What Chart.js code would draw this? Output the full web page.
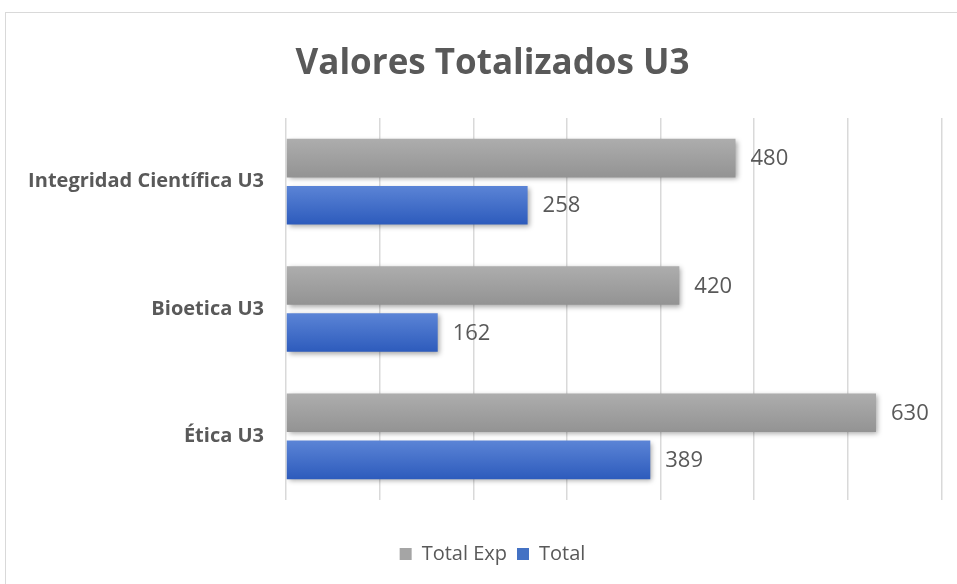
<!DOCTYPE html>
<html>
<head>
<meta charset="utf-8">
<script src="https://cdn.jsdelivr.net/npm/chart.js@4"></script>
<style>
  html, body { margin: 0; padding: 0; background: #fff; overflow: hidden; width: 957px; height: 584px; }
  #frame { position: absolute; left: 5px; top: 12px; width: 975px; height: 600px; border: 1.5px solid #d9d9d9; background: #fff; }
  #chart { position: absolute; left: 0; top: 0; }
</style>
</head>
<body>
<div id="frame"><canvas id="chart" width="973" height="585"></canvas></div>
<script>
const categories = ['Integridad Científica U3', 'Bioetica U3', 'Ética U3'];
const totalExp = [480, 420, 630];
const total = [258, 162, 389];
const xTicks = [0, 100, 200, 300, 400, 500, 600, 700];
const xMax = 740; // the plot runs a little past the last gridline

const textColor = '#595959';
const fontFamily = "'Open Sans', 'Noto Sans', sans-serif";

// vertical gradient per bar + soft drop shadow, then value labels
const barStyle = {
    id: 'barStyle',
    beforeDatasetsDraw(chart) {
        const ctx = chart.ctx;
        chart.data.datasets.forEach((ds, i) => {
            chart.getDatasetMeta(i).data.forEach(bar => {
                const top = bar.y - bar.height / 2;
                const g = ctx.createLinearGradient(0, top, 0, top + bar.height);
                g.addColorStop(0, ds.grad[0]);
                g.addColorStop(1, ds.grad[1]);
                bar.options.backgroundColor = g;
            });
        });
        ctx.save();
        ctx.shadowColor = 'rgba(0,0,0,0.35)';
        ctx.shadowBlur = 5;
        ctx.shadowOffsetX = 2;
        ctx.shadowOffsetY = 2;
    },
    afterDatasetsDraw(chart) {
        const ctx = chart.ctx;
        ctx.restore();
        ctx.save();
        ctx.fillStyle = textColor;
        ctx.font = '22px ' + fontFamily;
        ctx.textAlign = 'left';
        ctx.textBaseline = 'middle';
        chart.data.datasets.forEach((ds, i) => {
            chart.getDatasetMeta(i).data.forEach((bar, j) => {
                ctx.fillText(String(ds.data[j]), bar.x + 15, bar.y + 1);
            });
        });
        ctx.restore();
    }
};

new Chart(document.getElementById('chart'), {
    type: 'bar',
    data: {
        labels: categories,
        datasets: [
            {
                label: 'Total Exp',
                data: totalExp,
                backgroundColor: () => '#a5a5a5',
                grad: ['#adadad', '#939393'],
                categoryPercentage: 0.74,
                barPercentage: 0.82
            },
            {
                label: 'Total',
                data: total,
                backgroundColor: () => '#4472c4',
                grad: ['#5b84d6', '#2d5bbc'],
                categoryPercentage: 0.74,
                barPercentage: 0.82
            }
        ]
    },
    options: {
        indexAxis: 'y',
        responsive: false,
        animation: false,
        layout: { padding: { top: 0, right: 0, bottom: 24, left: 0 } },
        plugins: {
            title: {
                display: true,
                text: 'Valores Totalizados U3',
                color: textColor,
                font: { family: fontFamily, size: 35, weight: 'bold' },
                padding: { top: 30, bottom: 33 }
            },
            legend: {
                position: 'bottom',
                labels: {
                    color: textColor,
                    font: { family: fontFamily, size: 20 },
                    boxWidth: 12,
                    boxHeight: 12,
                    padding: 10,
                    generateLabels(chart) {
                        return chart.data.datasets.map((ds, i) => ({
                            text: ds.label,
                            fillStyle: i === 0 ? '#a5a5a5' : '#4472c4',
                            strokeStyle: 'transparent',
                            lineWidth: 0,
                            fontColor: textColor,
                            datasetIndex: i
                        }));
                    }
                }
            },
            tooltip: { enabled: false }
        },
        scales: {
            x: {
                position: 'bottom',
                min: xTicks[0],
                max: xMax,
                afterBuildTicks(scale) { scale.ticks = xTicks.map(v => ({ value: v })); },
                afterFit(scale) { scale.height = 34; },
                ticks: { display: false },
                grid: { color: '#d9d9d9', lineWidth: 1.5, drawTicks: false },
                border: { display: false }
            },
            y: {
                afterFit(scale) { scale.width = 280; },
                ticks: {
                    color: textColor,
                    font: { family: fontFamily, size: 20, weight: 'bold' },
                    padding: 22
                },
                grid: { display: false, drawTicks: false },
                border: { display: false }
            }
        }
    },
    plugins: [barStyle]
});
</script>
</body>
</html>
